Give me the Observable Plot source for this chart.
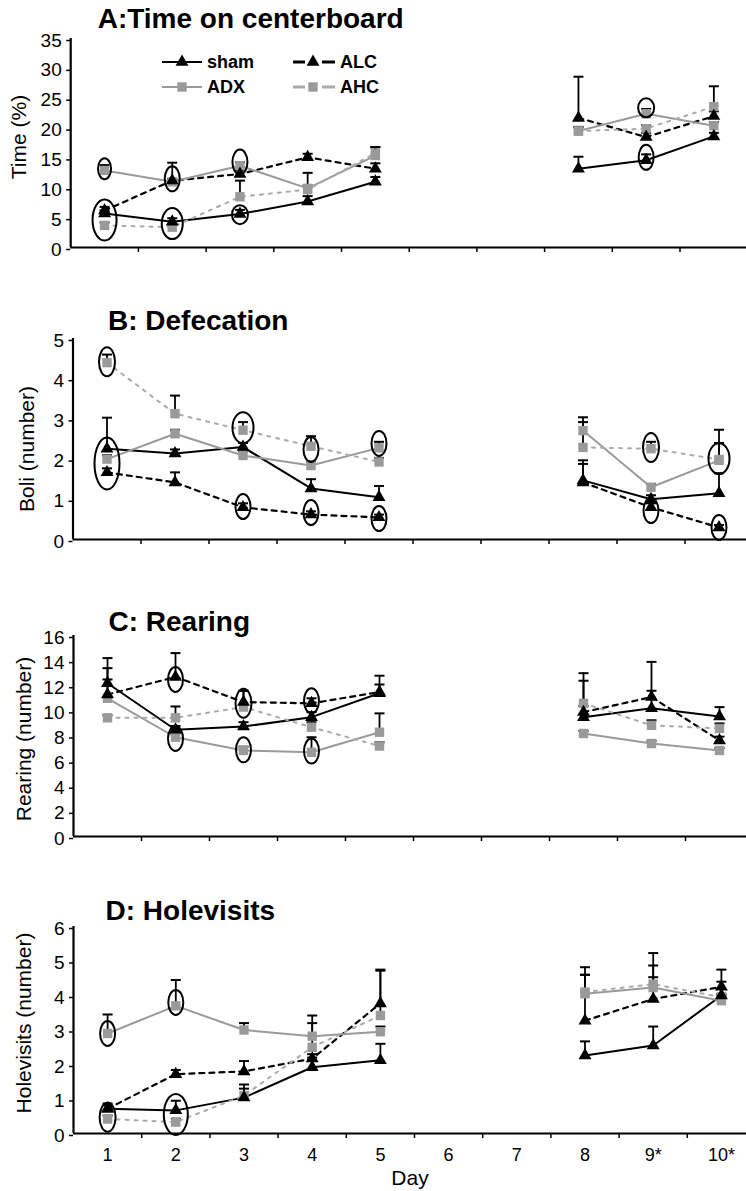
<!DOCTYPE html>
<html><head><meta charset="utf-8">
<script src="https://cdn.jsdelivr.net/npm/d3@7"></script>
<script src="https://cdn.jsdelivr.net/npm/@observablehq/plot@0.6"></script>
<style>
body{margin:0;background:#fff;}
#chart{width:746px;}
#chart svg{display:block;}
</style></head><body><div id="chart"></div>
<script>
// ---------- data ----------
const days = [1, 2, 3, 4, 5, 8, 9, 10];
const dayLabels = ["1", "2", "3", "4", "5", "6", "7", "8", "9*", "10*"];
const seriesNames = ["sham", "ALC", "ADX", "AHC"];

// A: Time on centerboard (%)
const timeMean = {
  sham: [5.7, 4.3, 5.6, 7.7, 11.0, 13.2, 14.6, 18.6],
  ALC:  [6.2, 11.2, 12.3, 15.1, 13.2, 21.7, 18.5, 22.0],
  ADX:  [12.9, 11.0, 13.7, 9.9, 15.4, 19.5, 22.4, 20.4],
  AHC:  [3.7, 3.4, 8.5, 9.7, 15.8, 19.5, 19.9, 23.6]
};
const timeSem = {
  sham: [0.5, 0.6, 0.7, 0.9, 0.8, 2.0, 1.0, 0.6],
  ALC:  [0.6, 3.0, 0.6, 0.6, 0.9, 6.9, 0.7, 0.8],
  ADX:  [0.9, 0.5, 0.6, 2.6, 1.4, 0.7, 0.8, 0.6],
  AHC:  [0.5, 0.5, 2.7, 0.7, 1.0, 0.6, 0.6, 3.4]
};
const timeRings = [
  {day: 1, v: 13.2, ring: "s"}, {day: 1, v: 4.6, ring: "xl"},
  {day: 2, v: 11.5, ring: "m"}, {day: 2, v: 4.0, ring: "l"},
  {day: 3, v: 14.3, ring: "m"}, {day: 3, v: 5.5, ring: "r"},
  {day: 9, v: 23.4, ring: "r"}, {day: 9, v: 15.1, ring: "m"}
];

// B: Defecation (boli)
const boliMean = {
  sham: [2.26, 2.14, 2.30, 1.27, 1.05, 1.47, 1.00, 1.15],
  ALC:  [1.67, 1.42, 0.80, 0.62, 0.55, 1.42, 0.80, 0.30],
  ADX:  [2.00, 2.63, 2.09, 1.84, 2.28, 2.71, 1.30, 1.97],
  AHC:  [4.40, 3.13, 2.72, 2.32, 1.93, 2.29, 2.26, 1.99]
};
const boliSem = {
  sham: [0.77, 0.10, 0.10, 0.23, 0.28, 0.50, 0.10, 0.50],
  ALC:  [0.10, 0.25, 0.10, 0.08, 0.07, 0.46, 0.10, 0.06],
  ADX:  [0.10, 0.10, 0.10, 0.10, 0.15, 0.21, 0.08, 0.43],
  AHC:  [0.20, 0.45, 0.20, 0.25, 0.10, 0.75, 0.17, 0.74]
};
const boliRings = [
  {day: 1, v: 1.89, ring: "xxl"}, {day: 1, v: 4.42, ring: "t"},
  {day: 3, v: 2.78, ring: "l"}, {day: 3, v: 0.82, ring: "m"},
  {day: 4, v: 2.24, ring: "m"}, {day: 4, v: 0.67, ring: "m"},
  {day: 5, v: 2.39, ring: "m"}, {day: 5, v: 0.52, ring: "m"},
  {day: 9, v: 2.29, ring: "t"}, {day: 9, v: 0.72, ring: "m"},
  {day: 10, v: 2.01, ring: "l"}, {day: 10, v: 0.30, ring: "m"}
];

// C: Rearing
const rearMean = {
  sham: [12.2, 8.5, 8.75, 9.5, 11.4, 9.5, 10.2, 9.55],
  ALC:  [11.3, 12.7, 10.7, 10.6, 11.5, 9.9, 11.1, 7.65],
  ADX:  [11.0, 7.9, 6.85, 6.7, 8.3, 8.2, 7.4, 6.85],
  AHC:  [9.45, 9.45, 10.3, 8.7, 7.2, 10.6, 8.85, 8.6]
};
const rearSem = {
  sham: [2.0, 0.3, 0.35, 0.4, 1.4, 2.9, 3.7, 0.75],
  ALC:  [2.1, 1.9, 0.9, 0.4, 0.6, 0.5, 0.5, 0.3],
  ADX:  [1.5, 0.3, 0.3, 1.2, 1.5, 0.2, 0.2, 0.2],
  AHC:  [0.2, 0.9, 1.3, 0.4, 0.3, 2.4, 0.4, 0.4]
};
const rearRings = [
  {day: 2, v: 12.5, ring: "m"}, {day: 2, v: 7.8, ring: "m"},
  {day: 3, v: 10.6, ring: "t"}, {day: 3, v: 6.9, ring: "m"},
  {day: 4, v: 10.8, ring: "m"}, {day: 4, v: 6.8, ring: "m"}
];

// D: Holevisits
const holeMean = {
  sham: [0.72, 0.67, 1.04, 1.92, 2.12, 2.26, 2.55, 4.00],
  ALC:  [0.72, 1.72, 1.80, 2.17, 3.77, 3.27, 3.90, 4.25],
  ADX:  [2.90, 3.70, 3.00, 2.82, 2.95, 4.05, 4.23, 3.85],
  AHC:  [0.42, 0.33, 1.10, 2.50, 3.42, 4.10, 4.33, 3.95]
};
const holeSem = {
  sham: [0.15, 0.28, 0.38, 0.28, 0.48, 0.41, 0.55, 0.75],
  ALC:  [0.10, 0.12, 0.30, 0.13, 0.98, 1.55, 0.97, 0.15],
  ADX:  [0.55, 0.75, 0.20, 0.60, 0.15, 0.55, 1.00, 0.15],
  AHC:  [0.10, 0.10, 0.20, 0.70, 1.30, 0.50, 0.20, 0.10]
};
const holeRings = [
  {day: 1, v: 2.9, ring: "m"}, {day: 1, v: 0.47, ring: "t"},
  {day: 2, v: 3.8, ring: "m"}, {day: 2, v: 0.55, ring: "xl"}
];

// ---------- styling ----------
const FONT = "'Liberation Sans', Arial, Helvetica, sans-serif";
const GRAY = "#9a9a9a";
const seriesStyle = {
  sham: {stroke: "black", dash: null, width: 2, symbol: "triangle", fill: "black", r: 4.8},
  ALC:  {stroke: "black", dash: "5,5", width: 2.2, symbol: "triangle", fill: "black", r: 4.8},
  ADX:  {stroke: GRAY, dash: null, width: 2, symbol: "square", fill: GRAY, r: 5.3},
  AHC:  {stroke: "#aaaaaa", dash: "3,6", width: 2, symbol: "square", fill: GRAY, r: 5.3}
};
const ringSizes = {s: [13, 21], r: [16, 19], m: [15, 25], t: [16, 29], l: [21, 31], xl: [24, 41], xxl: [25, 52]};

function ellipseSymbol(w, h) {
  const rx = w / 2, ry = h / 2, k = 0.5523;
  return {draw(c) {
    c.moveTo(rx, 0);
    c.bezierCurveTo(rx, k * ry, k * rx, ry, 0, ry);
    c.bezierCurveTo(-k * rx, ry, -rx, k * ry, -rx, 0);
    c.bezierCurveTo(-rx, -k * ry, -k * rx, -ry, 0, -ry);
    c.bezierCurveTo(k * rx, -ry, rx, -k * ry, rx, 0);
    c.closePath();
  }};
}
const capSymbol = {draw(c) { c.moveTo(-5, 0); c.lineTo(5, 0); }};

const panels = [
  {title: "A:Time on centerboard", ylabel: "Time (%)", mean: timeMean, sem: timeSem, rings: timeRings,
   yMax: 35, yTicks: d3.range(0, 36, 5), height: 280, mt: 38, mb: 33, xr: [70.2, 747.2],
   titleDx: 27, titleDy: -19, ylX: 19, ylDy: -6, xLabels: false, legend: true},
  {title: "B: Defecation", ylabel: "Boli (number)", mean: boliMean, sem: boliSem, rings: boliRings,
   yMax: 5, yTicks: d3.range(0, 6, 1), height: 280, mt: 58, mb: 21, xr: [72.5, 752.5],
   titleDx: 35, titleDy: -17, ylX: 27, ylDy: 10, xLabels: false},
  {title: "C: Rearing", ylabel: "Rearing (number)", mean: rearMean, sem: rearSem, rings: rearRings,
   yMax: 16, yTicks: d3.range(0, 17, 2), height: 290, mt: 75, mb: 14, xr: [73, 753],
   titleDx: 35, titleDy: -13, ylX: 24, ylDy: 3, xLabels: false},
  {title: "D: Holevisits", ylabel: "Holevisits (number)", mean: holeMean, sem: holeSem, rings: holeRings,
   yMax: 6, yTicks: d3.range(0, 7, 1), height: 341, mt: 76, mb: 58, xr: [73, 755],
   titleDx: 32, titleDy: -15, ylX: 24, ylDy: -7, xLabels: true}
];

const chart = document.getElementById("chart");

for (const p of panels) {
  const rows = [];
  for (const s of seriesNames) {
    days.forEach((d, i) => {
      const v = p.mean[s][i];
      rows.push({series: s, day: d, v, top: v + p.sem[s][i], seg: d <= 5 ? 0 : 1});
    });
  }
  const ml = p.xr[0];
  const marks = [];
  // error bars (upper), black
  marks.push(Plot.ruleX(rows, {x: "day", y1: "v", y2: "top", stroke: "black", strokeWidth: 1.8}));
  marks.push(Plot.dot(rows, {x: "day", y: "top", symbol: capSymbol, fill: "none", stroke: "black", strokeWidth: 2}));
  // lines
  for (const s of seriesNames) {
    const st = seriesStyle[s];
    marks.push(Plot.line(rows.filter(r => r.series === s), {
      x: "day", y: "v", z: "seg", stroke: st.stroke, strokeWidth: st.width,
      strokeDasharray: st.dash || undefined
    }));
  }
  // markers (squares first, then triangles)
  for (const s of ["AHC", "ADX", "ALC", "sham"]) {
    const st = seriesStyle[s];
    marks.push(Plot.dot(rows.filter(r => r.series === s), {
      x: "day", y: "v", symbol: st.symbol, fill: st.fill, stroke: "none", r: st.r
    }));
  }
  // significance rings
  for (const k of Object.keys(ringSizes)) {
    const sub = p.rings.filter(r => r.ring === k);
    if (!sub.length) continue;
    marks.push(Plot.dot(sub, {x: "day", y: "v", symbol: ellipseSymbol(...ringSizes[k]),
      fill: "none", stroke: "black", strokeWidth: 2}));
  }
  // axes
  marks.push(Plot.ruleY([0], {stroke: "black", strokeWidth: 2.2}));
  marks.push(Plot.ruleX([0.5], {stroke: "black", strokeWidth: 2.2}));
  marks.push(Plot.axisY({ticks: p.yTicks, tickSize: 4, tickPadding: 5, tickFormat: d => String(d),
    label: null, fontSize: 19, strokeWidth: 1.5, dy: 2}));
  marks.push(Plot.axisX({ticks: d3.range(1.5, 10, 1), tickSize: 5, tickFormat: () => "", label: null, strokeWidth: 1.5}));
  if (p.xLabels) {
    marks.push(Plot.axisX({ticks: d3.range(1, 11), tickSize: 0, tickPadding: 15,
      tickFormat: d => dayLabels[d - 1], label: null, fontSize: 18}));
    marks.push(Plot.text(["Day"], {frameAnchor: "bottom", textAnchor: "middle", lineAnchor: "middle",
      dy: 45, fontSize: 21}));
  }
  // title and y label
  marks.push(Plot.text([p.title], {frameAnchor: "top-left", textAnchor: "start", lineAnchor: "middle",
    dx: p.titleDx, dy: p.titleDy, fontSize: 28, fontWeight: "bold"}));
  marks.push(Plot.text([p.ylabel], {frameAnchor: "left", textAnchor: "middle", lineAnchor: "middle",
    rotate: -90, dx: p.ylX - ml, dy: p.ylDy, fontSize: 21}));

  const svg = Plot.plot({
    width: 746, height: p.height,
    marginLeft: ml, marginRight: 0, marginTop: p.mt, marginBottom: p.mb,
    x: {type: "linear", domain: [0.5, 10.5], range: p.xr},
    y: {domain: [0, p.yMax]},
    style: {fontFamily: FONT, fontSize: "18px", color: "black", background: "white"},
    marks
  });

  if (p.legend) {
    const g = d3.select(svg).append("g").attr("font-family", FONT).attr("font-weight", "bold")
      .attr("font-size", 18).attr("text-anchor", "start");
    const items = [
      {name: "sham", s: "sham", x0: 162, x1: 202, cx: 182, y: 62, tx: 207},
      {name: "ADX", s: "ADX", x0: 162, x1: 202, cx: 182, y: 87, tx: 207},
      {name: "ALC", s: "ALC", x0: 293, x1: 335, cx: 313, y: 62, tx: 340},
      {name: "AHC", s: "AHC", x0: 293, x1: 335, cx: 313, y: 87, tx: 340}
    ];
    for (const it of items) {
      const st = seriesStyle[it.s];
      if (st.dash) {
        g.append("line").attr("x1", it.x0).attr("x2", it.x0 + 12).attr("y1", it.y).attr("y2", it.y)
          .attr("stroke", st.stroke).attr("stroke-width", 3);
        g.append("line").attr("x1", it.x1 - 13).attr("x2", it.x1).attr("y1", it.y).attr("y2", it.y)
          .attr("stroke", st.stroke).attr("stroke-width", 3);
      } else {
        g.append("line").attr("x1", it.x0).attr("x2", it.x1).attr("y1", it.y).attr("y2", it.y)
          .attr("stroke", st.stroke).attr("stroke-width", 2);
      }
      const sym = st.symbol === "triangle" ? d3.symbolTriangle : d3.symbolSquare;
      const size = Math.PI * st.r * st.r;
      g.append("path").attr("d", d3.symbol(sym, size)()).attr("transform", `translate(${it.cx},${it.y})`)
        .attr("fill", st.fill);
      g.append("text").attr("x", it.tx).attr("y", it.y + 5.5).attr("fill", "black")
        .attr("text-anchor", "start").text(it.name);
    }
  }
  chart.appendChild(svg);
}
</script>
</body></html>
